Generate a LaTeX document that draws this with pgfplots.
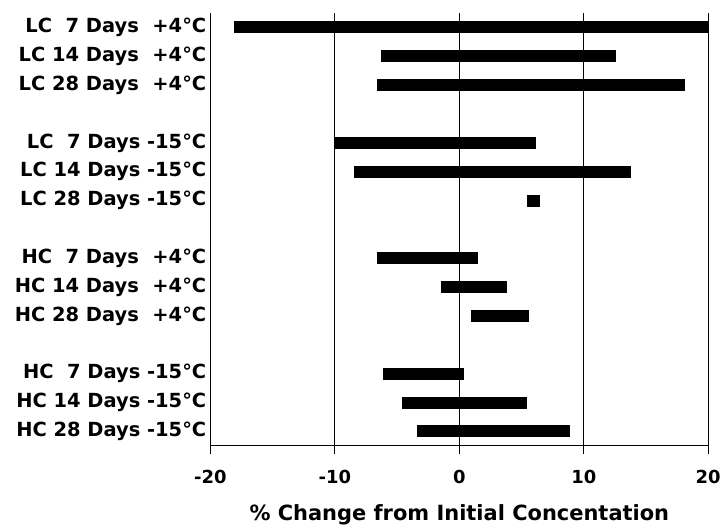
\documentclass[border=0pt]{standalone}
\usepackage{fontspec}
\setmainfont{DejaVu Sans}
\usepackage{pgfplots}
\pgfplotsset{compat=1.18}
\begin{document}
\begin{tikzpicture}
\pgfplotsset{rangebar/.style={black,solid,mark=none,line width=12pt,line cap=butt}}
\begin{axis}[scale only axis,width=499pt,height=434pt,
  xmin=-20,xmax=20,ymin=-0.5,ymax=14.5,
  axis x line*=bottom,axis y line*=left,
  axis line style={black,line width=1pt},
  xtick={-20,-10,0,10,20},xticklabels={-20,-10,0,10,20},
  xmajorgrids,grid style={black,line width=0.9pt},
  tick align=outside,major tick length=8pt,
  x tick style={black,line width=1pt},
  ytick={0,1,2,4,5,6,8,9,10,12,13,14},
  yticklabels={HC 28 Days -15°C,HC 14 Days -15°C,HC\ \ 7 Days -15°C,
    HC 28 Days\ \ +4°C,HC 14 Days\ \ +4°C,HC\ \ 7 Days\ \ +4°C,
    LC 28 Days -15°C,LC 14 Days -15°C,LC\ \ 7 Days -15°C,
    LC 28 Days\ \ +4°C,LC 14 Days\ \ +4°C,LC\ \ 7 Days\ \ +4°C},
  y tick style={draw=none},
  yticklabel style={font=\fontsize{19.5}{21}\selectfont\bfseries,inner sep=0pt,xshift=4pt},
  xticklabel style={font=\fontsize{18}{20}\selectfont\bfseries,yshift=-13pt},
  xlabel={\% Change from Initial Concentation},
  xlabel style={font=\fontsize{21}{24}\selectfont\bfseries,at={(axis description cs:0.5,0)},anchor=center,yshift=-69pt}]
\addplot[rangebar] coordinates {(-18.1,14) (20,14)};
\addplot[rangebar] coordinates {(-6.3,13) (12.6,13)};
\addplot[rangebar] coordinates {(-6.6,12) (18.1,12)};
\addplot[rangebar] coordinates {(-10.1,10) (6.2,10)};
\addplot[rangebar] coordinates {(-8.5,9) (13.8,9)};
\addplot[rangebar] coordinates {(5.4,8) (6.5,8)};
\addplot[rangebar] coordinates {(-6.6,6) (1.5,6)};
\addplot[rangebar] coordinates {(-1.5,5) (3.8,5)};
\addplot[rangebar] coordinates {(0.9,4) (5.6,4)};
\addplot[rangebar] coordinates {(-6.1,2) (0.4,2)};
\addplot[rangebar] coordinates {(-4.6,1) (5.4,1)};
\addplot[rangebar] coordinates {(-3.4,0) (8.9,0)};
\end{axis}
\path ([xshift=-211pt,yshift=-79pt]current axis.south west) rectangle ([xshift=14pt,yshift=13pt]current axis.north east);
\end{tikzpicture}
\end{document}
